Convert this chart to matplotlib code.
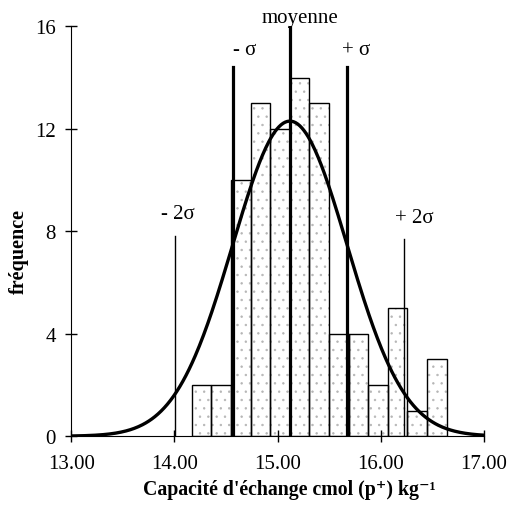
#Histogramme de la capacite d'echange avec courbe normale ajustee
import numpy as np
import matplotlib
matplotlib.use("Agg")
import matplotlib.pyplot as plt

#classes (bord gauche) et effectifs
bin_left = [14.17, 14.36, 14.55, 14.74, 14.93, 15.12, 15.31, 15.50, 15.69, 15.88, 16.07, 16.26, 16.45]
counts = [2, 2, 10, 13, 12, 14, 13, 4, 4, 2, 5, 1, 3]
bin_width = 0.19

#parametres de la courbe normale
mean = 15.12
sigma = 0.555
peak = 12.3

#lignes verticales: position, hauteur, etiquette
line_x = [mean - 2 * sigma, mean - sigma, mean, mean + sigma, mean + 2 * sigma]
line_top = [7.8, 14.4, 16.0, 14.4, 7.7]
line_width = [1.0, 2.3, 2.3, 2.3, 1.0]
line_labels = ["- 2σ", "- σ", "moyenne", "+ σ", "+ 2σ"]
label_dx = [0.02, 0.12, 0.10, 0.09, 0.10]
label_y = [8.7, 15.1, 16.35, 15.1, 8.55]

x_ticks = [13, 14, 15, 16, 17]
x_tick_labels = ["13.00", "14.00", "15.00", "16.00", "17.00"]
y_ticks = [0, 4, 8, 12, 16]

plt.rcParams["font.family"] = ["Liberation Serif", "DejaVu Serif"]
plt.rcParams["hatch.linewidth"] = 0.5

fig = plt.figure(figsize=(5.12, 5.06), dpi=100)
ax = fig.add_axes([0.139, 0.136, 0.806, 0.81])

#stipple then outlines
ax.bar(bin_left, counts, width=bin_width, align="edge", color="white",
       edgecolor="#b5b5b5", hatch="..", linewidth=0, zorder=1)
ax.bar(bin_left, counts, width=bin_width, align="edge", fill=False,
       edgecolor="black", linewidth=1.0, zorder=2)

#normal curve
xs = np.linspace(13.0, 17.0, 400)
ax.plot(xs, peak * np.exp(-0.5 * ((xs - mean) / sigma) ** 2), color="black",
        linewidth=2.4, zorder=4)

for x, top, lw, lab, dx, ly in zip(line_x, line_top, line_width, line_labels, label_dx, label_y):
    ax.plot([x, x], [0, top], color="black", linewidth=lw, zorder=3)
    ax.text(x + dx, ly, lab, ha="center", va="center", fontsize=15, zorder=5)

ax.set_xlim(13, 17)
ax.set_ylim(0, 16)
ax.spines["top"].set_visible(False)
ax.spines["right"].set_visible(False)
ax.set_xticks(x_ticks)
ax.set_xticklabels(x_tick_labels)
ax.set_yticks(y_ticks)
ax.tick_params(direction="inout", length=8, width=1, labelsize=15)
ax.tick_params(axis="x", pad=9)
ax.tick_params(axis="y", pad=7)
ax.margins(0)

ax.set_xlabel("Capacité d'échange cmol (p⁺) kg⁻¹", fontsize=14.3,
              fontweight="bold", labelpad=5)
ax.xaxis.set_label_coords(0.528, -0.105)
ax.set_ylabel("fréquence", fontsize=14.5, fontweight="bold", labelpad=12)
ax.yaxis.set_label_coords(-0.103, 0.454)

fig.savefig("out.png", dpi=100)
